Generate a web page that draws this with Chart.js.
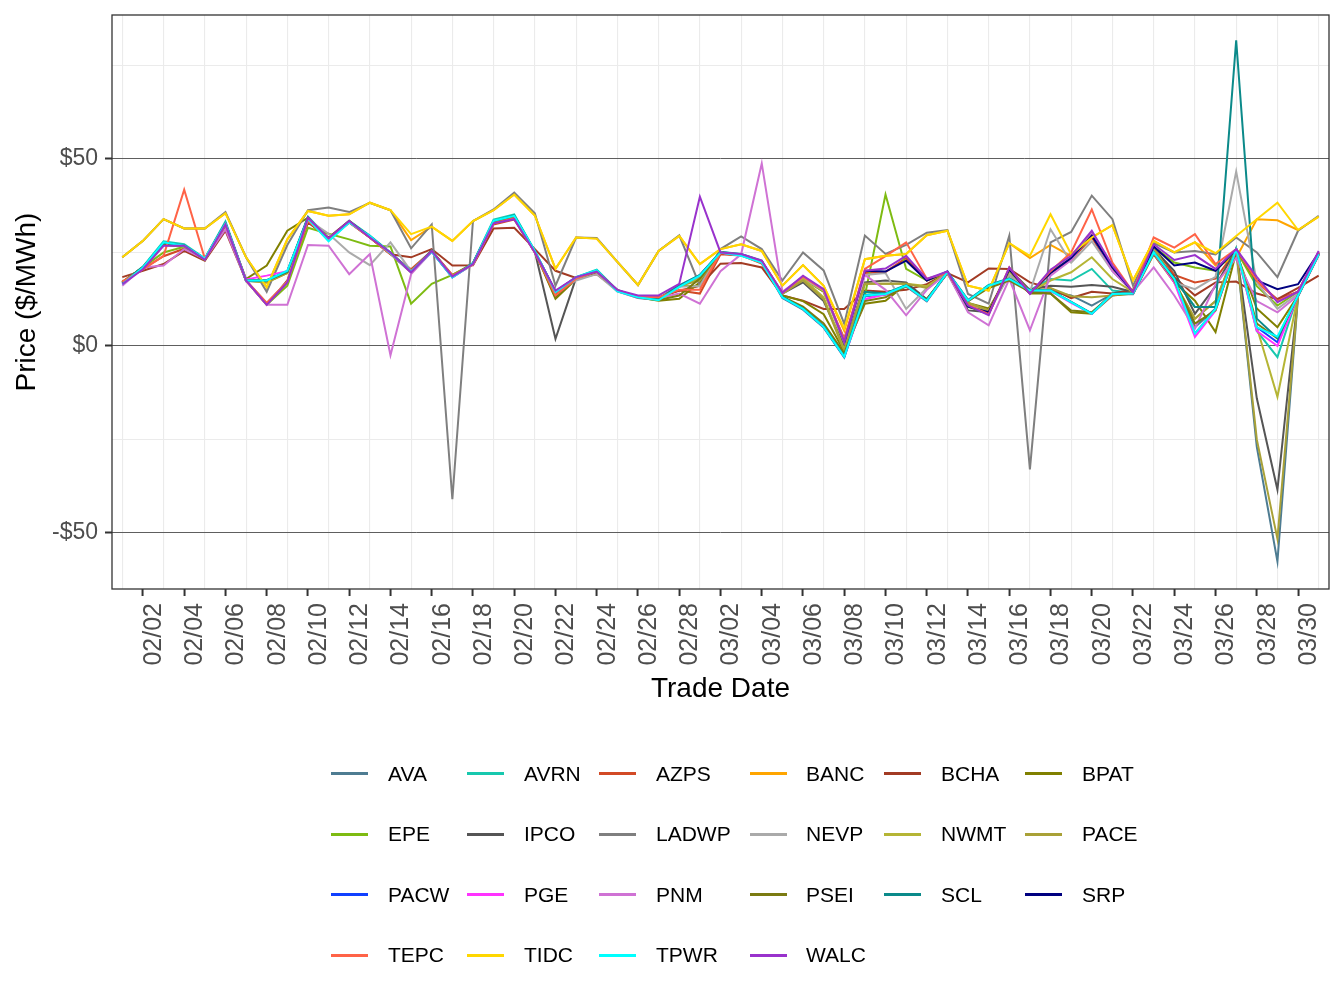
<!DOCTYPE html>
<html><head><meta charset="utf-8">
<script src="https://cdn.jsdelivr.net/npm/chart.js@4.4.1/dist/chart.umd.min.js"></script>
<style>
html,body{margin:0;padding:0;background:#fff;}
#wrap{position:relative;width:1344px;height:1008px;overflow:hidden;}
#c{position:absolute;left:0;top:0;}
.lt{position:absolute;font-family:"Liberation Sans",Arial,sans-serif;font-size:21px;color:#000;line-height:24px;white-space:nowrap;}
.sw{position:absolute;height:3px;width:37px;}
</style></head><body>
<div id="wrap"><canvas id="c" width="1344" height="1008"></canvas><div id="legend"></div></div>
<script>
const dates = ["02/01","02/02","02/03","02/04","02/05","02/06","02/07","02/08","02/09","02/10",
"02/11","02/12","02/13","02/14","02/15","02/16","02/17","02/18","02/19","02/20",
"02/21","02/22","02/23","02/24","02/25","02/26","02/27","02/28","03/01","03/02",
"03/03","03/04","03/05","03/06","03/07","03/08","03/09","03/10","03/11","03/12",
"03/13","03/14","03/15","03/16","03/17","03/18","03/19","03/20","03/21","03/22",
"03/23","03/24","03/25","03/26","03/27","03/28","03/29","03/30","03/31"];

const AVA = [16.8,20.8,27.3,26.6,23.0,32.6,17.3,17.3,19.6,34.0, 28.3,33.0,29.0,24.6,19.6,25.2,18.3,21.8,32.8,34.3, 25.0,14.3,18.0,19.8,14.6,12.8,12.3,15.8,18.6,24.8, 24.2,22.4,12.8,9.7,4.9,-3.1,13.3,13.7,15.9,11.9, 19.5,11.9,15.9,17.7,15.0,14.5,13.5,10.8,13.9,13.8, 24.8,17.7,5.0,10.0,25.7,-27.0,-57.6,13.3,24.3];
const AVRN = [16.9,21.2,28.0,27.2,23.4,33.3,17.6,17.6,20.0,34.6, 28.8,33.5,29.5,25.0,20.0,25.6,18.6,22.2,33.8,35.2, 25.4,14.6,18.4,20.4,14.9,13.1,12.6,16.2,19.0,25.2, 24.6,22.8,13.2,10.1,5.3,-2.7,13.7,14.1,16.3,12.3, 19.9,12.3,16.3,18.1,15.0,17.9,17.5,20.6,14.8,14.2, 25.2,18.1,10.4,10.4,26.1,4.0,-3.0,13.7,24.7];
const AZPS = [17.2,20.6,24.0,26.0,23.0,32.0,17.4,11.2,17.0,33.2, 28.6,33.0,29.0,24.6,20.5,25.4,19.0,21.8,32.5,33.8, 25.0,13.8,18.0,19.6,14.8,13.2,13.0,14.8,14.0,24.5, 24.2,22.0,14.0,18.0,14.5,2.0,19.5,19.8,23.5,17.5, 19.5,11.0,8.5,20.5,14.0,19.5,23.0,29.0,20.5,14.4, 26.5,19.0,17.0,18.0,25.5,17.0,12.5,14.5,25.0];
const BANC = [23.7,28.1,33.9,31.4,31.4,35.5,23.7,15.7,28.5,36.1, 34.8,35.2,38.3,36.3,28.3,31.9,28.1,33.4,36.3,40.5, 34.9,20.6,29.0,28.7,22.5,16.3,25.4,29.4,21.9,25.9, 27.2,25.4,16.1,21.6,16.1,4.0,23.2,24.1,24.6,29.6, 30.8,16.1,14.8,27.5,23.5,27.0,24.0,29.0,32.3,17.5, 28.1,25.0,27.7,21.5,23.5,33.9,33.6,31.0,34.6];
const BCHA = [18.4,20.1,21.9,25.4,22.8,30.8,17.5,11.0,17.5,33.0, 29.0,33.5,29.0,24.5,23.7,25.9,21.5,21.6,31.4,31.6, 25.9,20.1,18.2,19.2,15.0,13.0,13.0,14.8,16.1,22.0, 22.2,21.0,13.5,12.1,9.9,9.9,14.8,14.5,15.0,16.5, 19.5,17.0,20.7,20.6,17.0,15.4,12.8,14.5,14.0,15.0, 25.0,18.4,13.5,17.0,17.2,14.0,12.5,15.5,18.8];
const BPAT = [17.0,21.0,27.0,26.5,23.0,32.5,17.9,21.5,30.8,34.3, 28.5,33.2,29.2,24.8,19.8,25.4,18.5,22.0,33.0,34.5, 25.2,12.6,17.8,20.0,14.8,13.0,12.1,12.6,17.0,25.0, 24.4,22.6,13.5,12.0,8.5,-1.5,11.3,12.1,16.5,12.5, 19.5,11.5,10.0,19.0,14.0,14.0,9.0,8.6,13.5,14.0, 24.5,17.0,12.1,3.7,25.0,10.0,5.0,13.5,24.5];
const EPE = [17.0,21.0,25.0,26.5,23.0,32.5,17.5,11.0,16.1,31.6, 30.0,28.5,26.8,26.6,11.3,16.6,19.0,22.0,33.0,34.0, 25.0,14.5,18.0,20.0,14.8,13.0,12.8,16.0,16.0,25.0, 24.4,22.6,14.2,18.0,14.5,1.0,13.5,40.5,20.6,17.5, 19.5,10.5,8.5,20.5,14.0,19.8,23.5,30.0,21.0,14.4, 26.5,22.3,21.0,20.1,25.5,16.0,10.8,14.5,25.0];
const IPCO = [17.0,21.0,27.5,26.8,23.2,32.8,17.5,17.5,19.8,34.2, 28.5,33.2,29.2,24.8,19.8,25.4,18.5,22.0,33.0,34.5, 25.2,1.9,18.2,20.0,14.8,13.0,12.5,16.0,18.8,25.0, 24.4,22.6,14.0,17.0,12.0,0.0,17.0,17.5,17.0,12.5, 19.5,9.5,9.0,20.5,15.0,16.1,15.8,16.3,15.8,14.4, 26.0,20.0,8.6,16.0,25.9,-14.0,-38.4,13.5,24.8];
const LADWP = [23.7,28.1,33.9,31.4,31.4,35.8,23.7,14.5,27.0,36.3, 37.0,35.8,38.3,36.3,26.1,32.5,-41.0,33.4,36.5,41.0, 35.5,16.1,29.0,28.9,22.5,16.3,25.4,29.6,16.1,25.9, 29.3,25.9,17.5,25.0,20.2,5.9,29.5,24.6,27.0,30.3, 31.0,13.9,11.3,29.5,-33.0,27.7,30.5,40.2,33.9,16.1, 27.5,25.0,25.4,24.5,29.0,25.0,18.4,30.8,34.8];
const NEVP = [16.8,21.0,27.3,26.6,23.2,32.6,17.5,11.5,17.2,33.8, 30.0,25.0,21.6,27.7,20.0,25.2,18.5,22.0,33.0,34.3, 25.0,14.3,17.5,19.2,14.6,13.0,12.5,15.8,16.0,25.0, 24.2,22.4,14.0,18.0,14.8,1.5,19.0,19.5,9.9,15.5, 19.5,11.0,9.0,19.0,14.5,31.2,22.3,28.0,20.0,14.4, 26.0,17.0,15.2,18.5,46.6,17.0,9.9,14.0,25.0];
const NWMT = [17.0,21.0,27.3,26.8,23.2,32.8,17.5,17.0,19.5,34.0, 28.5,33.2,29.2,24.8,19.8,25.4,18.5,22.0,33.0,34.5, 25.2,14.3,18.2,20.0,14.8,13.0,12.5,16.0,18.0,25.0, 24.4,22.6,14.0,18.0,13.0,-1.0,16.6,16.6,16.6,16.0, 19.5,11.5,9.5,20.0,14.5,17.5,19.7,23.7,17.9,14.4, 26.5,17.0,7.3,12.0,25.9,5.0,-13.6,13.5,24.8];
const PACE = [17.0,21.0,27.3,26.8,23.2,32.8,17.5,17.0,19.5,34.0, 28.5,33.2,29.2,24.8,19.8,25.4,18.5,22.0,33.0,34.5, 25.2,14.3,18.2,20.0,14.8,13.0,12.5,16.0,17.5,25.0, 24.4,22.6,14.0,17.5,12.5,-1.5,16.6,16.6,16.6,15.5, 19.5,11.5,9.5,20.0,14.5,15.5,13.3,13.0,13.5,14.4, 26.5,17.0,7.3,12.0,25.9,-25.0,-51.6,13.5,24.8];
const PACW = [16.9,21.0,27.5,26.8,23.3,32.8,17.5,17.5,19.9,34.2, 28.5,33.2,29.3,24.8,19.8,25.3,18.4,22.0,33.2,34.6, 25.2,14.5,18.3,20.1,14.7,13.0,12.4,16.0,18.9,25.0, 24.3,22.5,13.0,9.9,5.1,-2.9,13.5,13.9,16.1,12.1, 19.7,12.1,16.1,17.9,14.8,14.8,11.7,8.6,13.9,14.0, 25.0,17.9,3.3,9.9,25.9,5.0,1.0,13.5,24.5];
const PGE = [16.8,21.0,27.4,26.7,23.2,32.7,17.8,18.8,20.0,34.1, 28.4,33.1,29.2,24.7,19.7,25.3,18.4,21.9,33.1,34.5, 25.1,14.4,18.2,20.0,14.7,12.9,12.4,16.1,18.8,24.9, 24.3,22.5,13.1,10.0,5.2,-2.8,12.5,13.8,16.0,12.2, 19.6,12.2,16.0,17.8,14.7,14.7,11.5,8.6,13.8,14.0, 24.9,17.0,2.4,9.5,25.8,4.0,0.0,13.4,24.4];
const PNM = [16.1,21.0,21.5,25.9,23.2,31.2,17.5,11.0,11.0,27.0, 26.8,19.2,24.6,-2.5,19.2,25.2,18.5,21.8,32.8,34.3, 25.0,14.5,18.0,20.0,14.8,13.0,12.8,14.0,11.3,20.0, 24.5,48.8,14.5,18.5,15.0,1.0,19.0,15.0,8.2,15.0, 19.5,9.0,5.5,17.9,4.2,18.8,23.0,30.0,20.0,14.4, 21.0,13.5,4.6,16.5,23.5,12.0,9.0,13.5,25.0];
const PSEI = [17.0,21.0,27.3,26.7,23.2,32.7,17.6,17.5,19.8,34.1, 28.5,33.2,29.2,24.8,19.8,25.4,18.5,22.0,33.0,34.5, 25.2,13.0,18.2,20.0,14.8,13.0,12.3,13.5,18.0,25.0, 24.4,22.6,13.2,10.5,6.0,-2.0,12.0,13.0,16.0,12.3, 19.6,12.0,15.5,17.5,14.5,14.0,9.5,9.0,13.8,14.0, 25.0,17.5,6.0,9.5,25.9,6.0,2.0,13.5,24.5];
const SCL = [16.9,21.1,27.6,26.9,23.3,32.9,17.5,17.5,19.9,34.3, 28.6,33.3,29.3,24.9,19.9,25.5,18.6,22.1,33.4,34.9, 25.3,14.5,18.3,20.2,14.8,13.0,12.5,16.1,18.9,25.1, 24.5,22.7,13.1,10.0,5.2,-2.8,14.5,14.0,16.2,12.2, 19.8,12.2,16.2,18.0,14.9,14.9,11.8,8.7,14.0,14.1, 25.1,18.0,10.4,10.4,81.7,7.3,2.1,13.6,24.6];
const SRP = [null,null,null,null,null,null,null,null,null,null, null,null,null,null,null,null,null,null,null,null, null,null,null,null,null,null,null,null,null,null, null,null,null,null,null,1.0,20.1,19.9,22.8,17.5, 19.9,10.5,9.0,20.5,14.0,19.5,23.5,29.5,21.0,14.4, 26.6,21.5,22.3,20.1,25.9,17.5,15.2,16.5,25.0];
const TEPC = [17.2,20.5,24.1,41.8,23.4,32.5,17.5,11.5,17.2,33.5, 28.5,33.0,29.0,24.6,20.0,25.4,18.8,21.8,32.8,34.2, 25.0,13.5,18.0,20.0,14.8,13.2,13.0,15.0,15.0,25.0, 24.4,22.6,14.2,18.5,15.0,1.5,20.6,24.0,27.7,18.0, 19.5,11.0,8.5,21.0,14.0,20.0,25.0,36.5,22.3,14.4, 29.0,26.3,29.9,21.9,25.9,17.5,12.0,14.5,25.2];
const TIDC = [23.7,28.1,33.9,31.4,31.4,35.5,23.7,15.7,28.5,36.1, 34.8,35.2,38.3,36.3,29.9,31.9,28.1,33.4,36.3,40.5, 34.9,20.6,29.0,28.7,22.5,16.3,25.4,29.4,21.9,25.9, 27.2,25.4,16.1,21.6,16.1,4.6,23.2,24.1,24.6,29.6, 30.8,16.1,14.8,27.5,24.1,35.2,24.5,29.0,32.3,17.5, 28.1,25.0,27.7,24.8,29.4,33.9,38.3,31.0,34.6];
const TPWR = [16.5,21.0,27.7,26.8,23.4,32.8,17.5,17.5,20.1,34.0, 28.0,33.0,29.4,24.8,19.9,25.2,18.3,22.0,33.5,34.8, 25.4,14.4,18.4,20.3,14.6,13.0,12.2,15.8,18.8,25.0, 24.1,22.3,13.0,9.9,5.1,-2.9,13.5,13.9,16.1,12.1, 19.7,12.1,16.1,17.9,14.8,14.8,11.7,8.6,13.9,14.0, 25.0,17.9,3.3,9.9,25.9,5.0,2.5,13.5,24.5];
const WALC = [16.5,20.5,26.8,26.8,23.0,32.5,17.5,11.0,17.0,34.3, 28.8,33.4,29.0,25.0,19.7,25.4,18.6,21.9,32.8,33.9, 25.0,14.8,18.4,19.9,15.0,13.5,13.5,16.6,39.9,25.0, 24.6,22.8,14.2,18.8,15.2,1.1,20.1,20.7,24.1,17.9, 19.9,10.8,8.2,21.0,13.9,20.4,24.1,30.8,21.5,14.4, 27.2,23.0,24.3,20.6,25.9,18.5,11.7,14.5,25.4];

const seriesNames = ["AVA","AVRN","AZPS","BANC","BCHA","BPAT","EPE","IPCO","LADWP","NEVP","NWMT","PACE","PACW","PGE","PNM","PSEI","SCL","SRP","TEPC","TIDC","TPWR","WALC"];
const seriesData = [AVA,AVRN,AZPS,BANC,BCHA,BPAT,EPE,IPCO,LADWP,NEVP,NWMT,PACE,PACW,PGE,PNM,PSEI,SCL,SRP,TEPC,TIDC,TPWR,WALC];
const seriesColors = ["#4E7C92","#17C8AE","#D24A26","#FFA500","#A23B24","#808000","#7EBB12","#555555","#7F7F7F","#AAAAAA","#B5B535","#A9A137","#1040FF","#FF33FF","#CF72D4","#7B7B12","#0B8A8A","#000080","#FF6347","#FFD700","#00FFFF","#9932CC"];
const yTickValues = [-50,-25,0,25,50,75];

const FONT = '"Liberation Sans", Arial, sans-serif';

const borderPlugin = {
  id: 'panelBorder',
  afterDatasetsDraw(chart) {
    const a = chart.chartArea, ctx = chart.ctx;
    ctx.save();
    ctx.strokeStyle = '#333333';
    ctx.lineWidth = 1.3;
    ctx.strokeRect(a.left, a.top, a.right - a.left, a.bottom - a.top);
    ctx.restore();
  }
};

const n = seriesNames.length;
const datasets = seriesNames.map((name, k) => ({
  label: name,
  data: seriesData[k],
  borderColor: seriesColors[k],
  backgroundColor: seriesColors[k],
  borderWidth: 2,
  pointRadius: 0,
  pointHoverRadius: 0,
  tension: 0,
  fill: false,
  spanGaps: false,
  order: n - 1 - k
}));

new Chart(document.getElementById('c'), {
  type: 'line',
  data: { labels: dates, datasets },
  options: {
    responsive: false,
    animation: false,
    events: [],
    layout: { padding: { left: 0, right: 15, top: 15, bottom: 298 } },
    plugins: { legend: { display: false }, tooltip: { enabled: false } },
    scales: {
      x: {
        type: 'category',
        offset: true,
        border: { display: false },
        grid: {
          offset: false,
          color: c => (c.index % 2 === 0 ? '#EBEBEB' : 'rgba(0,0,0,0)'),
          lineWidth: 1.1,
          drawTicks: true,
          tickLength: 7,
          tickWidth: 2,
          tickColor: c => (c.index % 2 === 1 ? '#333333' : 'rgba(0,0,0,0)')
        },
        ticks: {
          autoSkip: false,
          maxRotation: 90,
          minRotation: 90,
          padding: 7,
          labelOffset: 11,
          color: '#4D4D4D',
          font: { family: FONT, size: 25 },
          callback: (v, i) => (i % 2 === 1 ? dates[i] : '')
        },
        title: { display: true, text: 'Trade Date', color: '#000', font: { family: FONT, size: 28 }, padding: { top: 0, bottom: 4 } },
        afterFit: s => { s.height = 121; s.paddingLeft = 0; s.paddingRight = 0; }
      },
      y: {
        min: -65,
        max: 88.5,
        border: { display: false },
        afterBuildTicks: s => { s.ticks = yTickValues.map(v => ({ value: v })); },
        grid: {
          color: c => (c.tick && c.tick.value % 50 === 0 ? '#5E5E5E' : '#EBEBEB'),
          lineWidth: c => (c.tick && c.tick.value % 50 === 0 ? 1 : 1.1),
          tickLength: 7,
          tickWidth: 2,
          tickColor: c => (c.tick && c.tick.value % 50 === 0 ? '#333333' : 'rgba(0,0,0,0)')
        },
        ticks: {
          padding: 7,
          color: '#4D4D4D',
          font: { family: FONT, size: 23 },
          callback: v => (v % 50 === 0 ? (v < 0 ? '-$' + Math.abs(v) : '$' + v) : '')
        },
        title: { display: true, text: 'Price ($/MWh)', color: '#000', font: { family: FONT, size: 28 }, padding: { top: 10, bottom: 0 } },
        afterFit: s => { s.width = 112; s.paddingTop = 0; s.paddingBottom = 0; }
      }
    }
  },
  plugins: [borderPlugin]
});

// legend (ggplot-style, 6 columns x 4 rows)
const swX = [331, 467, 599, 750, 884, 1025];
const lbX = [388, 524, 656, 806, 941, 1082];
const rowY = [773.5, 834, 894.7, 955.3];
const lg = document.getElementById('legend');
seriesNames.forEach((name, k) => {
  const r = Math.floor(k / 6), c = k % 6;
  const sw = document.createElement('div');
  sw.className = 'sw';
  sw.style.left = swX[c] + 'px';
  sw.style.top = (rowY[r] - 1.5) + 'px';
  sw.style.background = seriesColors[k];
  lg.appendChild(sw);
  const t = document.createElement('div');
  t.className = 'lt';
  t.style.left = lbX[c] + 'px';
  t.style.top = (rowY[r] - 12) + 'px';
  t.textContent = name;
  lg.appendChild(t);
});
</script>
</body></html>
